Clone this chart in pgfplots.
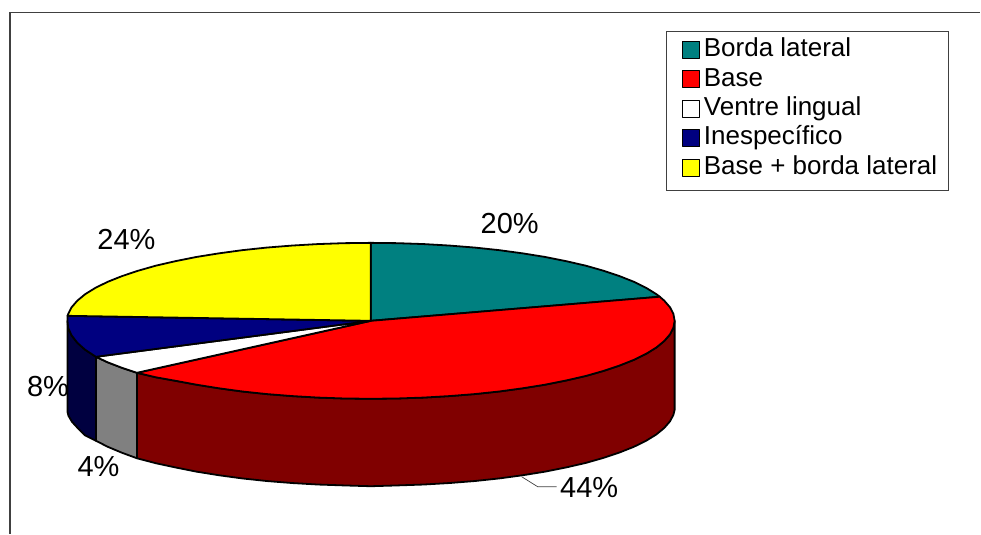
\documentclass[border=0pt]{standalone}
\usepackage{fontspec}
\setmainfont{Liberation Sans}
\usepackage{pgfplots}
\pgfplotsset{compat=1.18}
\definecolor{cTeal}{HTML}{008080}
\definecolor{cRed}{HTML}{FF0000}
\definecolor{cNavy}{HTML}{000080}
\definecolor{cYellow}{HTML}{FFFF00}
\definecolor{wRed}{HTML}{800000}
\definecolor{wGray}{HTML}{808080}
\definecolor{wNavy}{HTML}{000040}
\definecolor{frameC}{HTML}{404040}
\begin{document}
\begin{tikzpicture}
\begin{axis}[
  scale only axis, width=981bp, height=534bp,
  xmin=0, xmax=981, ymin=0, ymax=534, y dir=reverse,
  axis lines=none, clip=false,
  legend cell align=left,
  legend image code/.code={\path[draw=none, fill=none] (0bp,0bp) -- (21.6bp,0bp); \draw[#1, line width=1.3bp] (4.6bp,-6.5bp) rectangle (21.6bp,10.5bp);},
  legend style={
    at={(axis cs:666.7,30.7)}, anchor=north west,
    draw=frameC, line width=0.9bp, fill=white,
    inner xsep=11.4bp, inner ysep=5.9bp, row sep=0pt, column sep=3.5bp,
    font=\fontsize{26bp}{29bp}\selectfont,
    nodes={inner sep=0pt, text height=19.5bp, text depth=10bp},
  },
]
\addplot[draw=none, forget plot] coordinates {(0,0) (981,534)};
\addplot[draw=frameC, line width=1.1bp, forget plot] coordinates {(10,534) (10,12.5) (981,12.5)};
% side walls
\addplot[draw=black, line width=1.8bp, line join=round, fill=wRed, forget plot] coordinates {
(675,321)(673.8,327.8)(670.4,334.5)(664.6,341.2)(656.7,347.7)(646.5,354)(634.3,360)(620,365.7)(603.9,371.1)(586,376.2)(566.4,380.7)(545.4,384.9)(523,388.5)(499.5,391.7)(475,394.3)(449.7,396.3)(423.8,397.8)(397.5,398.7)(371,399)(344.5,398.7)(318.2,397.8)(292.3,396.3)(267,394.3)(242.5,391.7)(219,388.5)(196.6,384.9)(175.6,381)(156,377.5)(137,373)
(137,458.5)(156,463.5)(175.6,467.7)(196.6,471.9)(219,475.5)(242.5,478.7)(267,481.3)(292.3,483.3)(318.2,484.8)(344.5,485.7)(371,486.5)(397.5,485.7)(423.8,484.8)(449.7,483.3)(475,481.3)(499.5,478.7)(523,475.5)(545.4,471.9)(566.4,467.7)(586,463.2)(603.9,458.1)(620,452.7)(634.3,447)(646.5,441)(656.7,434.7)(664.6,428.2)(670.4,421.5)(673.8,415)(675,410)
} --cycle;
\addplot[draw=black, line width=1.8bp, line join=round, fill=wGray, forget plot] coordinates {
(137,373)(122,368)(107.7,362.5)(96,357)(96,441)(107.7,447)(122,453)(137,458.5)
} --cycle;
\addplot[draw=black, line width=1.8bp, line join=round, fill=wNavy, forget plot] coordinates {
(96,357)(85.3,350)(77.4,343)(71.6,335.5)(68.2,328)(67.5,321)(67.5,412)(68.5,416)(72,422)(77.5,428)(85,435.5)(96,441)
} --cycle;
% top faces
\addplot[draw=black, line width=1.8bp, line join=round, fill=cTeal] coordinates {
(371,321)(371,243)(397.5,243.3)(423.8,244.2)(449.7,245.7)(475,247.7)(499.5,250.3)(523,253.5)(545.4,257.1)(566.4,261.3)(586,265.8)(603.9,270.9)(620,276.3)(634.3,282)(646.5,288)(656.7,294.3)(660.1,296.9)
} --cycle;
\addlegendentry{Borda lateral}
\addplot[draw=black, line width=1.8bp, line join=round, fill=cRed] coordinates {
(371,321)(660.1,296.9)(664.6,300.8)(670.4,307.5)(673.8,314.2)(675,321)(673.8,327.8)(670.4,334.5)(664.6,341.2)(656.7,347.7)(646.5,354)(634.3,360)(620,365.7)(603.9,371.1)(586,376.2)(566.4,380.7)(545.4,384.9)(523,388.5)(499.5,391.7)(475,394.3)(449.7,396.3)(423.8,397.8)(397.5,398.7)(371,399)(344.5,398.7)(318.2,397.8)(292.3,396.3)(267,394.3)(242.5,391.7)(219,388.5)(196.6,384.9)(175.6,381)(156,377.5)(137,373)
} --cycle;
\addlegendentry{Base}
\addplot[draw=black, line width=1.8bp, line join=round, fill=white] coordinates {
(371,321)(137,373)(122,368)(107.7,362.5)(96,357)
} --cycle;
\addlegendentry{Ventre lingual}
\addplot[draw=black, line width=1.8bp, line join=round, fill=cNavy] coordinates {
(371,321)(96,357)(85.3,350)(77.4,343)(71.6,335.5)(68.2,328)(67.5,321)(67.6,316)
} --cycle;
\addlegendentry{Inespecífico}
\addplot[draw=black, line width=1.8bp, line join=round, fill=cYellow] coordinates {
(371,321)(67.6,316)(68.2,314.2)(71.6,307.5)(77.4,300.8)(85.3,294.3)(95.5,288)(107.7,282)(122,276.3)(138.1,270.9)(156,265.8)(175.6,261.3)(196.6,257.1)(219,253.5)(242.5,250.3)(267,247.7)(292.3,245.7)(318.2,244.2)(344.5,243.3)(371,243)
} --cycle;
\addlegendentry{Base + borda lateral}
% leader line
\addplot[draw=frameC, line width=0.7bp, forget plot] coordinates {(522,477) (538,487) (557,487)};
% value labels
\begin{scope}[every node/.style={font=\fontsize{29bp}{30bp}\selectfont, inner sep=0pt}]
\node at (axis cs:510,224) {20\%};
\node at (axis cs:126.5,240) {24\%};
\node at (axis cs:589.5,488) {44\%};
\node at (axis cs:48,387) {8\%};
\node at (axis cs:98.5,467) {4\%};
\end{scope}
\end{axis}
\end{tikzpicture}
\end{document}
